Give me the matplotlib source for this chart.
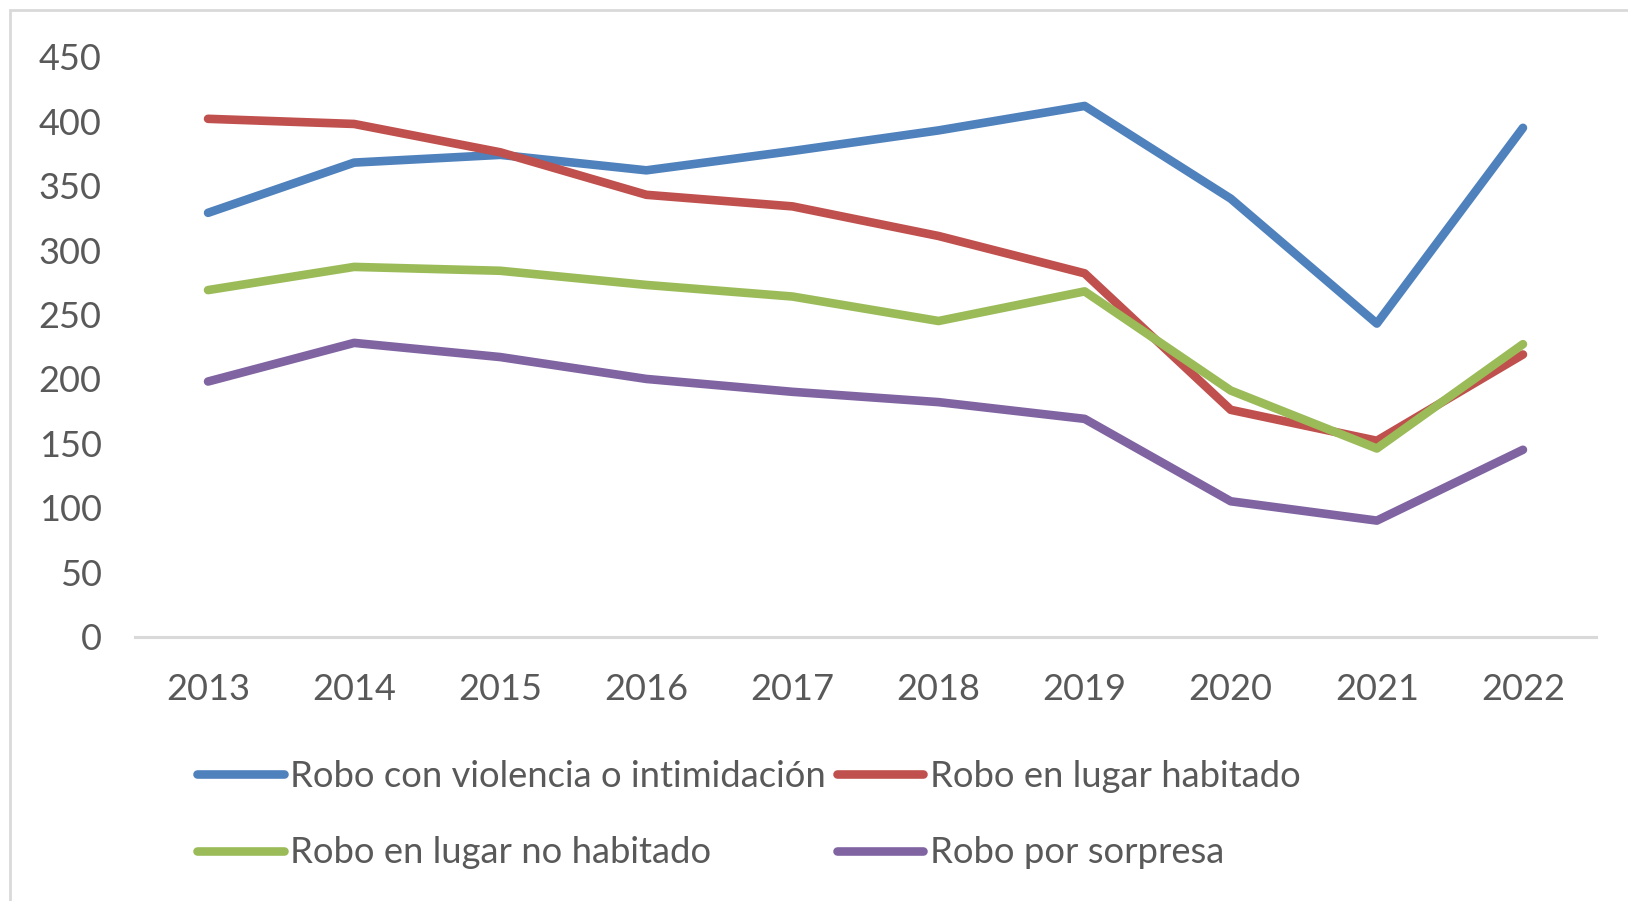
import matplotlib.pyplot as plt
from matplotlib.patches import Rectangle

years = ["2013", "2014", "2015", "2016", "2017", "2018", "2019", "2020", "2021", "2022"]
violencia = [329, 368, 374, 362, 377, 393, 412, 340, 243, 395]
habitado = [402, 398, 376, 343, 334, 311, 282, 176, 152, 219]
no_habitado = [269, 287, 284, 273, 264, 245, 268, 191, 146, 227]
sorpresa = [198, 228, 217, 200, 190, 182, 169, 105, 90, 145]

labels = [
    "Robo con violencia o intimidación",
    "Robo en lugar habitado",
    "Robo en lugar no habitado",
    "Robo por sorpresa",
]
colors = ["#4F81BD", "#C0504D", "#9BBB59", "#8064A2"]
y_ticks = [0, 50, 100, 150, 200, 250, 300, 350, 400, 450]

plt.rcParams["font.family"] = ["Lato", "DejaVu Sans"]
text_color = "#595959"
grey = "#D9D9D9"

W, H = 1628, 901
fig = plt.figure(figsize=(W / 100, H / 100), dpi=100)

# chart area border (cropped on the right and bottom)
fig.patches.append(
    Rectangle((10 / W, -0.1), 1.2, 1 - 10 / H + 0.1, transform=fig.transFigure,
              facecolor="none", edgecolor=grey, linewidth=2)
)

ax = fig.add_axes([135 / W, 1 - 636.5 / H, (1596 - 135) / W, (636.5 - 57) / H])

x = list(range(len(years)))
handles = []
for series, lab, col in zip([violencia, habitado, no_habitado, sorpresa], labels, colors):
    (ln,) = ax.plot(x, series, color=col, linewidth=6.2, label=lab,
                    solid_capstyle="round", solid_joinstyle="round")
    handles.append(ln)

ax.set_xlim(-0.5, len(years) - 0.5)
ax.set_ylim(0, 450)
ax.set_yticks(y_ticks)
ax.set_xticks(x)
ax.set_xticklabels(years)
for s in ["top", "right", "left"]:
    ax.spines[s].set_visible(False)
ax.spines["bottom"].set_color(grey)
ax.spines["bottom"].set_linewidth(2.2)
ax.tick_params(axis="both", length=0, labelsize=26, labelcolor=text_color)
ax.tick_params(axis="y", pad=24)
ax.tick_params(axis="x", pad=26)

order = [0, 2, 1, 3]
fig.legend(
    [handles[i] for i in order], [labels[i] for i in order],
    ncol=2, loc="upper left", bbox_to_anchor=(197 / W, 1 - 760 / H),
    frameon=False, fontsize=26.2, labelcolor=text_color,
    handlelength=2.38, handletextpad=0.18, columnspacing=0.3, labelspacing=1.19,
    borderaxespad=0, borderpad=0,
)

fig.savefig("out.png", dpi=100, facecolor="white")
